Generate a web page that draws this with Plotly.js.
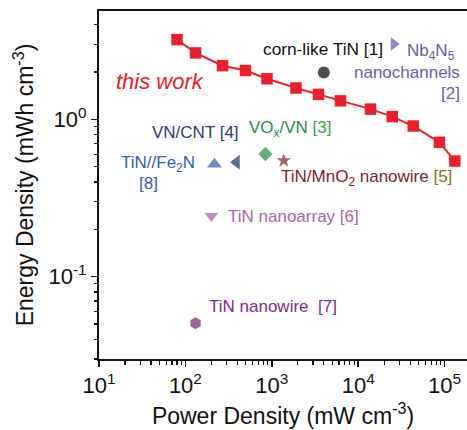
<!DOCTYPE html>
<html>
<head>
<meta charset="utf-8">
<script src="https://cdn.plot.ly/plotly-3.0.1.min.js"></script>
<style>html,body{margin:0;padding:0;background:#fff;}#chart{width:467px;height:430px;}</style>
</head>
<body>
<div id="chart"></div>
<script>
// ---- data ----
const thisWorkPower  = [80, 131, 269, 496, 880, 1905, 3470, 6240, 13870, 24770, 43350, 87300, 131300];
const thisWorkEnergy = [3.21, 2.64, 2.19, 2.04, 1.81, 1.58, 1.44, 1.31, 1.16, 1.04, 0.906, 0.714, 0.543];

const refNames  = ['corn-like TiN [1]', 'Nb4N5 nanochannels [2]', 'VOx/VN [3]', 'VN/CNT [4]',
                   'TiN/MnO2 nanowire [5]', 'TiN nanoarray [6]', 'TiN nanowire [7]', 'TiN//Fe2N [8]'];
const refPower  = [4000, 25800, 845, 390, 1377, 200, 131, 217];
const refEnergy = [1.98, 3.01, 0.602, 0.533, 0.546, 0.243, 0.0506, 0.518];

const xTickVals = [10, 100, 1000, 10000, 100000];
const xTickText = ['10<sup>1</sup>', '10<sup>2</sup>', '10<sup>3</sup>', '10<sup>4</sup>', '10<sup>5</sup>'];
const yTickVals = [0.1, 1];
const yTickText = ['10<sup>-1</sup>', '10<sup>0</sup>'];

// ---- styles ----
const refSymbols = ['circle', 'triangle-right', 'diamond', 'triangle-left', 'star', 'triangle-down', 'hexagon', 'triangle-up'];
const refColors  = ['#000000', '#6a55b0', '#1d8a45', '#1e2f66', '#7b1d2a', '#b05aa5', '#7a1f7a', '#2a5caa'];
const refSizes   = [12, 12, 11, 13, 11, 12, 12, 13];

const FONT = 'Liberation Sans, Arial, Helvetica, sans-serif';
const W = 467, H = 430, L = 99, R = 0, T = 11, B = 71;
const pw = W - L - R, ph = H - T - B;
const px = v => (v - L) / pw;
const py = v => (H - B - v) / ph;

function ann(text, x, y, color, size, xanchor, extra) {
  return Object.assign({
    text: text, xref: 'paper', yref: 'paper', x: px(x), y: py(y),
    xanchor: xanchor || 'left', yanchor: 'middle', showarrow: false,
    font: {family: FONT, size: size || 17, color: color}
  }, extra || {});
}

const traces = [
  {
    x: thisWorkPower, y: thisWorkEnergy, type: 'scatter', mode: 'lines+markers',
    name: 'this work',
    line: {color: '#e8202a', width: 2},
    marker: {symbol: 'square', size: 11.5, color: '#e8202a'},
    hoverinfo: 'skip'
  },
  {
    x: refPower, y: refEnergy, type: 'scatter', mode: 'markers',
    text: refNames,
    marker: {symbol: refSymbols, size: refSizes, color: refColors, line: {width: 0}},
    hoverinfo: 'skip'
  }
];

const layout = {
  width: W, height: H,
  margin: {l: L, r: R, t: T, b: B, pad: 0},
  paper_bgcolor: '#ffffff', plot_bgcolor: '#ffffff',
  showlegend: false,
  font: {family: FONT, color: '#111'},
  xaxis: {
    type: 'log', range: [1, 1 + pw / 86.4],
    showline: true, linecolor: '#111', linewidth: 2, mirror: true,
    showgrid: false, zeroline: false,
    tickmode: 'array', tickvals: xTickVals, ticktext: xTickText,
    ticks: 'outside', ticklen: 6, tickwidth: 1.5, tickcolor: '#111',
    minor: {ticks: 'outside', ticklen: 3.5, tickwidth: 1.2, tickcolor: '#111', dtick: 'D1', showgrid: false},
    tickfont: {family: FONT, size: 22, color: '#111'},
    title: {text: 'Power Density (mW cm<sup>-3</sup>)', font: {family: FONT, size: 23, color: '#111'}, standoff: 10},
    automargin: false
  },
  yaxis: {
    type: 'log', range: [-1.523, 0.688],
    showline: true, linecolor: '#111', linewidth: 2, mirror: false,
    showgrid: false, zeroline: false,
    tickmode: 'array', tickvals: yTickVals, ticktext: yTickText,
    ticks: 'outside', ticklen: 6, tickwidth: 1.5, tickcolor: '#111',
    minor: {ticks: 'outside', ticklen: 3.5, tickwidth: 1.2, tickcolor: '#111', dtick: 'D1', showgrid: false},
    tickfont: {family: FONT, size: 22, color: '#111'},
    title: {text: 'Energy Density (mWh cm<sup>-3</sup>)', font: {family: FONT, size: 23, color: '#111'}, standoff: 8},
    automargin: false
  },
  annotations: [
    ann('<i>this work</i>', 114, 81, '#e8202a', 22),
    ann('corn-like TiN [1]', 261, 49, '#111', 17.3),
    ann('Nb<sub>4</sub>N<sub>5</sub>', 457, 52, '#6a5aaa', 17, 'right'),
    ann('nanochannels', 462, 73, '#6a5aaa', 17, 'right'),
    ann('[2]', 462, 93.5, '#6a5aaa', 17, 'right'),
    ann('VO<sub>x</sub>/VN <span style="color:#3aa64f">[3]</span>', 247, 129, '#1f8a4a', 17),
    ann('VN/CNT [4]', 150, 132, '#2a3a78', 17),
    ann('TiN//Fe<sub>2</sub>N', 118.5, 164, '#2f5fb0', 17),
    ann('[8]', 136.5, 183.5, '#2f5fb0', 17),
    ann('TiN/MnO<sub>2</sub> nanowire <span style="color:#8a6a30">[5]</span>', 279, 178, '#7a1f2a', 17),
    ann('TiN nanoarray [6]', 226, 216, '#b060a8', 17),
    ann('TiN nanowire\u00a0 [7]', 207, 306.5, '#7f2a85', 17)
  ]
};

Plotly.newPlot('chart', traces, layout, {staticPlot: true, displayModeBar: false});
</script>
</body>
</html>
